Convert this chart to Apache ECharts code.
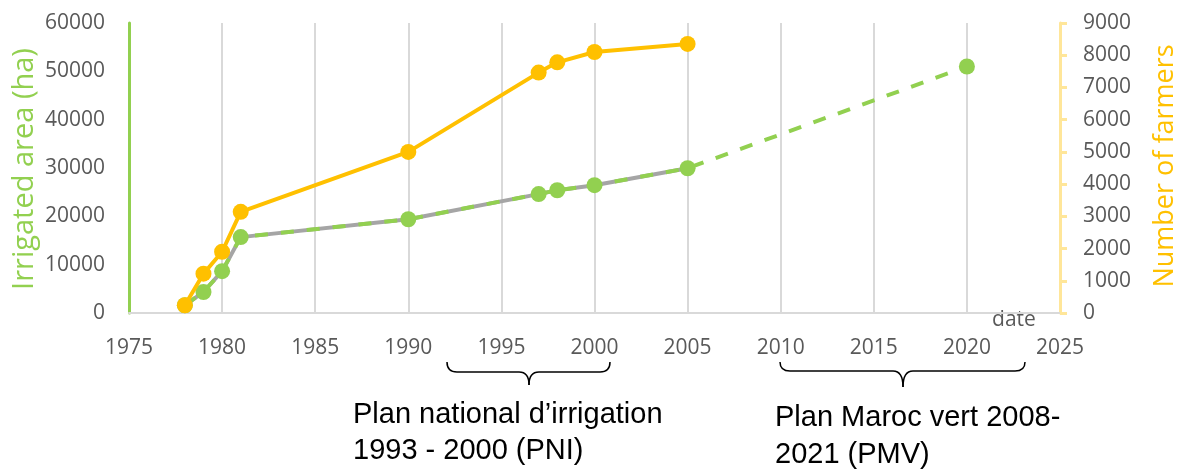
<!DOCTYPE html>
<html>
<head>
<meta charset="utf-8">
<script src="https://cdn.jsdelivr.net/npm/echarts@6/dist/echarts.min.js"></script>
<style>
  html, body { margin: 0; padding: 0; background: #fff; }
  #chart { width: 1179px; height: 473px; }
</style>
</head>
<body>
<div id="chart"></div>
<script>
// irrigated area (ha), left axis
const areaYears = [1978, 1979, 1980, 1981, 1990, 1997, 1998, 2000, 2005, 2020]
const areaValues = [1600, 4350, 8650, 15700, 19400, 24600, 25400, 26450, 29950, 51000]
// last observed year for the solid grey line
const areaObservedUntil = 2005

// number of farmers, right axis
const farmerYears = [1978, 1979, 1980, 1981, 1990, 1997, 1998, 2000, 2005]
const farmerValues = [240, 1220, 1900, 3140, 5000, 7460, 7780, 8100, 8350]

const chart = echarts.init(document.getElementById('chart'))

const areaData = areaYears.map((y, i) => [y, areaValues[i]])
const areaObserved = areaData.filter(d => d[0] <= areaObservedUntil)
const farmerData = farmerYears.map((y, i) => [y, farmerValues[i]])

// plain numbers, no thousands separator
const plain = v => String(v)
const tickFont = { fontFamily: 'Open Sans', fontSize: 21, color: '#595959', formatter: plain }

// curly brace under the axis, built from curves and lines
function brace(x1, x2, xm, yTop, yMid, yTip) {
  const st = { stroke: '#000', lineWidth: 1.5, fill: 'none' }
  const r = 10
  return [
    { type: 'bezierCurve', shape: { x1: x1, y1: yTop, x2: x1 + r, y2: yMid, cpx1: x1, cpy1: yMid }, style: st },
    { type: 'line', shape: { x1: x1 + r, y1: yMid, x2: xm - r, y2: yMid }, style: st },
    { type: 'bezierCurve', shape: { x1: xm - r, y1: yMid, x2: xm, y2: yTip, cpx1: xm, cpy1: yMid }, style: st },
    { type: 'bezierCurve', shape: { x1: xm, y1: yTip, x2: xm + r, y2: yMid, cpx1: xm, cpy1: yMid }, style: st },
    { type: 'line', shape: { x1: xm + r, y1: yMid, x2: x2 - r, y2: yMid }, style: st },
    { type: 'bezierCurve', shape: { x1: x2 - r, y1: yMid, x2: x2, y2: yTop, cpx1: x2, cpy1: yMid }, style: st }
  ]
}

const option = {
  animation: false,
  grid: { left: 129, right: 119, top: 23, bottom: 160 },
  xAxis: {
    type: 'value',
    min: 1975,
    max: 2025,
    interval: 5,
    axisLine: { lineStyle: { color: '#d9d9d9', width: 2 } },
    axisTick: { show: false },
    axisLabel: Object.assign({ margin: 25 }, tickFont),
    splitLine: { show: true, lineStyle: { color: '#d9d9d9', width: 2 } }
  },
  yAxis: [
    {
      type: 'value',
      min: 0,
      max: 60000,
      interval: 10000,
      axisLine: { show: true, lineStyle: { color: '#92d050', width: 3 } },
      axisTick: { show: false },
      axisLabel: Object.assign({ margin: 24 }, tickFont),
      splitLine: { show: false }
    },
    {
      type: 'value',
      min: 0,
      max: 9000,
      interval: 1000,
      position: 'right',
      axisLine: { show: true, lineStyle: { color: '#ffe699', width: 3 } },
      axisTick: { show: true, inside: false, length: 7, lineStyle: { color: '#ffe699', width: 3 } },
      axisLabel: Object.assign({ margin: 23 }, tickFont),
      splitLine: { show: false }
    }
  ],
  series: [
    {
      name: 'area observed',
      type: 'line',
      data: areaObserved,
      symbol: 'none',
      lineStyle: { color: '#a5a5a5', width: 4 },
      z: 2
    },
    {
      name: 'Irrigated area',
      type: 'line',
      data: areaData,
      symbol: 'circle',
      symbolSize: 16,
      itemStyle: { color: '#92d050' },
      lineStyle: { color: '#92d050', width: 4, type: [13, 13] },
      z: 3
    },
    {
      name: 'Number of farmers',
      type: 'line',
      yAxisIndex: 1,
      data: farmerData,
      symbol: 'circle',
      symbolSize: 16,
      itemStyle: { color: '#ffc000' },
      lineStyle: { color: '#ffc000', width: 4 },
      z: 4
    }
  ],
  graphic: [
    {
      type: 'text', x: 25, y: 169, rotation: Math.PI / 2,
      style: { text: 'Irrigated area (ha)', fill: '#92d050', font: '29px "Open Sans"', align: 'center', verticalAlign: 'middle' }
    },
    {
      type: 'text', x: 1165, y: 166, rotation: Math.PI / 2,
      style: { text: 'Number of farmers', fill: '#ffc000', font: '27px "Open Sans"', align: 'center', verticalAlign: 'middle' }
    },
    {
      type: 'text', x: 1014, y: 320,
      style: { text: 'date', fill: '#595959', font: '21px "Open Sans"', align: 'center', verticalAlign: 'middle' }
    },
    ...brace(447, 610, 529, 362, 372, 385),
    ...brace(780, 1025, 903, 362, 371, 387),
    {
      type: 'text', x: 353, y: 415,
      style: { text: 'Plan national d’irrigation', fill: '#000', font: '29px "Liberation Sans"', align: 'left', verticalAlign: 'middle' }
    },
    {
      type: 'text', x: 353, y: 451,
      style: { text: '1993 - 2000 (PNI)', fill: '#000', font: '29px "Liberation Sans"', align: 'left', verticalAlign: 'middle' }
    },
    {
      type: 'text', x: 775, y: 418,
      style: { text: 'Plan Maroc vert 2008-', fill: '#000', font: '29px "Liberation Sans"', align: 'left', verticalAlign: 'middle' }
    },
    {
      type: 'text', x: 775, y: 455,
      style: { text: '2021 (PMV)', fill: '#000', font: '29px "Liberation Sans"', align: 'left', verticalAlign: 'middle' }
    }
  ]
}

chart.setOption(option)
</script>
</body>
</html>
